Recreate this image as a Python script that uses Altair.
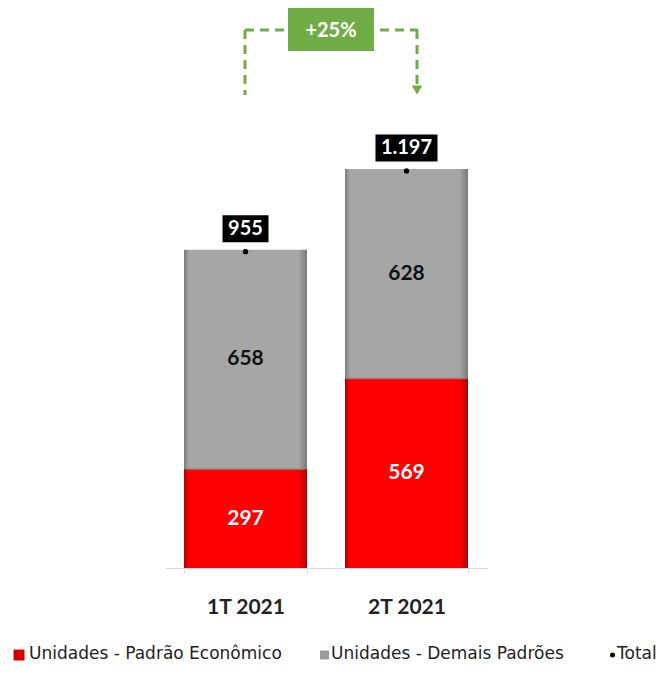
import altair as alt
import pandas as pd

categories = ["1T 2021", "2T 2021"]
economico = [297, 569]
demais = [658, 628]
totals = [955, 1197]
total_labels = ["955", "1.197"]
growth_label = "+25%"
legend_labels = ["Unidades - Padrão Econômico", "Unidades - Demais Padrões", "Total"]

df = pd.DataFrame({
    "cat": categories,
    "eco": economico,
    "dem": demais,
    "total": totals,
    "tlabel": total_labels,
})

FONT = "Lato"
RED = "#ff0000"
GRAY = "#a6a6a6"
GREEN = "#70ad47"

xscale = alt.Scale(domain=categories, range=[157, 479], paddingInner=0.236, paddingOuter=0.118)
yscale = alt.Scale(domain=[0, 1500], range=[560, 60])

X = alt.X("cat:N", scale=xscale, sort=categories,
          axis=alt.Axis(title=None, labelAngle=0, labelFont=FONT, labelFontSize=21,
                        labelFontWeight="bold", labelColor="#222222", domainColor="#d9d9d9",
                        tickColor="#d9d9d9", tickSize=5, labelPadding=23, tickBand="extent",
                        domainWidth=1))

base = alt.Chart(df)

def grad(edge, mid):
    return alt.Gradient(gradient="linear", x1=0, x2=1, y1=0, y2=0, stops=[
        alt.GradientStop(color=edge, offset=0),
        alt.GradientStop(color=mid, offset=0.04),
        alt.GradientStop(color=mid, offset=0.93),
        alt.GradientStop(color=edge, offset=1),
    ])

red_bars = base.mark_bar(color=grad("#b00000", RED)).encode(
    x=X,
    y=alt.Y("eco:Q", scale=yscale, axis=None, stack=None),
)
gray_bars = base.transform_calculate(top="datum.eco + datum.dem").mark_bar(
    color=grad("#7a7a7a", GRAY)).encode(
    x=alt.X("cat:N", scale=xscale, sort=categories),
    y=alt.Y("eco:Q", scale=yscale, axis=None),
    y2="top:Q",
)
seam = base.mark_tick(color="#8a8a8a", thickness=2, size=120).encode(
    x=alt.X("cat:N", scale=xscale, sort=categories),
    y=alt.Y("eco:Q", scale=yscale),
)
red_text = base.transform_calculate(mid="datum.eco / 2").mark_text(
    font=FONT, fontSize=21, fontWeight="bold", color="white", baseline="middle").encode(
    x=alt.X("cat:N", scale=xscale, sort=categories),
    y=alt.Y("mid:Q", scale=yscale),
    text="eco:Q",
)
gray_text = base.transform_calculate(mid="datum.eco + datum.dem / 2").mark_text(
    font=FONT, fontSize=21, fontWeight="bold", color="#111111", baseline="middle").encode(
    x=alt.X("cat:N", scale=xscale, sort=categories),
    y=alt.Y("mid:Q", scale=yscale),
    text="dem:Q",
)
tot_pts = base.mark_point(filled=True, color="black", size=28, opacity=1, yOffset=2).encode(
    x=alt.X("cat:N", scale=xscale, sort=categories),
    y=alt.Y("total:Q", scale=yscale),
)

def box(cat, w, h=27):
    r = h / w
    path = f"M-1,-{r:.3f}L1,-{r:.3f}L1,{r:.3f}L-1,{r:.3f}Z"
    return base.transform_filter(alt.datum.cat == cat).mark_point(
        shape=path, filled=True, color="black", opacity=1, size=w * w, yOffset=-21).encode(
        x=alt.X("cat:N", scale=xscale, sort=categories),
        y=alt.Y("total:Q", scale=yscale),
    )

boxes = box(categories[0], 46) + box(categories[1], 62)
tot_text = base.mark_text(font=FONT, fontSize=20, fontWeight="bold", color="white",
                          baseline="middle", yOffset=-21).encode(
    x=alt.X("cat:N", scale=xscale, sort=categories),
    y=alt.Y("total:Q", scale=yscale),
    text="tlabel:N",
)

one = alt.Chart(pd.DataFrame({"g": [growth_label]}))
dash = [9, 6]
arr_l = one.mark_rule(color=GREEN, strokeWidth=3, strokeDash=dash).encode(
    x=alt.value(237), y=alt.value(22), y2=alt.value(87))
arr_t = one.mark_rule(color=GREEN, strokeWidth=3, strokeDash=dash).encode(
    x=alt.value(237), x2=alt.value(410), y=alt.value(22))
arr_r = one.mark_rule(color=GREEN, strokeWidth=3, strokeDash=dash).encode(
    x=alt.value(409), y=alt.value(22), y2=alt.value(78))
arr_head = one.mark_point(shape="triangle-down", filled=True, color=GREEN, opacity=1, size=110).encode(
    x=alt.value(409), y=alt.value(82))
gbox = one.mark_rect(color=GREEN).encode(
    x=alt.value(280), x2=alt.value(366), y=alt.value(0), y2=alt.value(43))
gtext = one.mark_text(font=FONT, fontSize=20, fontWeight="bold", color="white", baseline="middle").encode(
    x=alt.value(323), y=alt.value(23), text="g:N")

LFONT = "DejaVu Sans"
leg_text = alt.Chart(pd.DataFrame({"t": legend_labels, "px": [21, 323, 609]})).mark_text(
    font=LFONT, fontSize=17, color="#222222", align="left", baseline="middle").encode(
    x=alt.X("px:Q", scale=None), y=alt.value(646), text="t:N")
leg_red = one.mark_square(color="#d00000", size=120, opacity=1).encode(x=alt.value(11), y=alt.value(647))
leg_gray = one.mark_square(color="#9a9a9a", size=80, opacity=1).encode(x=alt.value(316.5), y=alt.value(647))
leg_dot = one.mark_circle(color="black", size=25, opacity=1).encode(x=alt.value(604.5), y=alt.value(647))

chart = alt.layer(
    red_bars, gray_bars, seam, red_text, gray_text, tot_pts, boxes, tot_text,
    arr_l, arr_t, arr_r, arr_head, gbox, gtext,
    leg_text, leg_red, leg_gray, leg_dot,
).properties(
    width=652, height=560,
    padding={"left": 0, "top": 0, "right": 0, "bottom": 98},
    autosize=alt.AutoSizeParams(type="none"),
).configure_view(stroke=None).configure_axis(grid=False)

chart.save("out.html", embed_options={"renderer": "svg", "actions": False})
